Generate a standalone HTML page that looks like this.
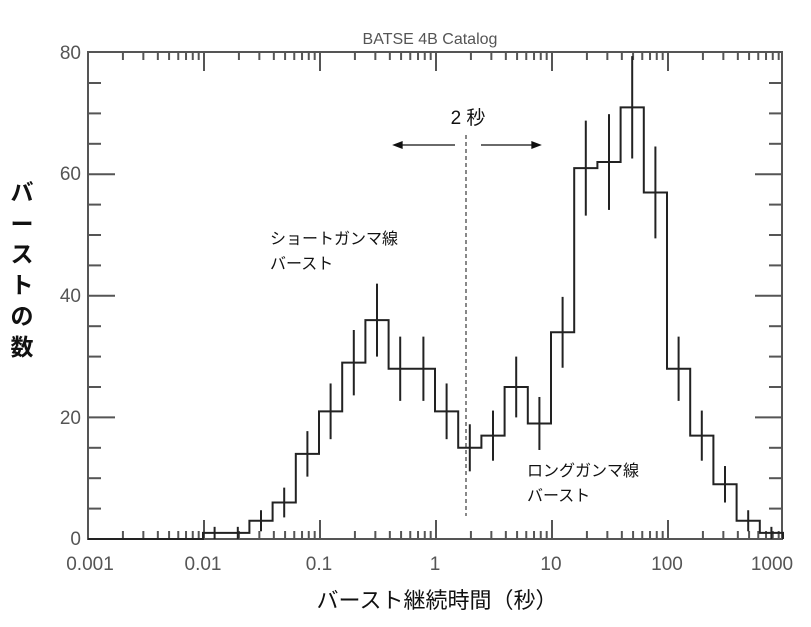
<!DOCTYPE html>
<html><head><meta charset="utf-8"><style>
body{margin:0;background:#fff;width:811px;height:627px;overflow:hidden}
svg{display:block}
.t{font-family:"Liberation Sans","Noto Sans CJK JP",sans-serif}
</style></head><body>
<svg id="s" width="811" height="627" viewBox="0 0 811 627" xmlns="http://www.w3.org/2000/svg">
<text class="t" x="430" y="44" font-size="16" fill="#555" text-anchor="middle">BATSE 4B Catalog</text>
<g id="ax" stroke="#555" stroke-width="2" fill="none"></g>
<g id="hist" stroke="#222" stroke-width="2" fill="none"></g>
<g class="t" font-size="19" fill="#555" text-anchor="end">
<text x="81" y="545">0</text><text x="81" y="424">20</text><text x="81" y="302">40</text><text x="81" y="180">60</text><text x="81" y="59">80</text>
</g>
<g class="t" font-size="19" fill="#555" text-anchor="middle">
<text x="90" y="570">0.001</text><text x="203" y="570">0.01</text><text x="319" y="570">0.1</text><text x="435" y="570">1</text><text x="551" y="570">10</text><text x="667" y="570">100</text><text x="772" y="570">1000</text>
</g>
<text class="t" x="437" y="608" font-size="22" fill="#111" text-anchor="middle">バースト継続時間（秒）</text>
<g class="t" font-size="23" fill="#111" text-anchor="middle" font-weight="bold">
<text x="22" y="200">バ</text><text x="22" y="232">ー</text><text x="22" y="262">ス</text><text x="22" y="293">ト</text><text x="22" y="324">の</text><text x="22" y="355">数</text>
</g>
<line x1="466" y1="135" x2="466" y2="516" stroke="#111" stroke-width="1" stroke-dasharray="4,3"/>
<text class="t" x="468" y="124" font-size="19" fill="#111" text-anchor="middle">2 秒</text>
<g stroke="#111" stroke-width="1.3" fill="#111">
<line x1="398" y1="145" x2="455" y2="145"/><polygon points="394,145 402,142 402,148"/>
<line x1="481" y1="145" x2="536" y2="145"/><polygon points="540,145 532,142 532,148"/>
</g>
<g class="t" font-size="16" fill="#111">
<text x="270" y="244">ショートガンマ線</text><text x="270" y="269">バースト</text>
<text x="527" y="476">ロングガンマ線</text><text x="527" y="501">バースト</text>
</g>
</svg>
<script>
var ns="http://www.w3.org/2000/svg";
function L(g,x1,y1,x2,y2){var l=document.createElementNS(ns,"line");l.setAttribute("x1",x1);l.setAttribute("y1",y1);l.setAttribute("x2",x2);l.setAttribute("y2",y2);document.getElementById(g).appendChild(l);}
var X0=88,X1=782,Yb=539,Yt=52;
function X(t){return 88+116*(Math.log10(t)+3);}
function Y(v){return 539-6.08*v;}
var ax=document.getElementById("ax");
var r=document.createElementNS(ns,"rect");r.setAttribute("x",X0);r.setAttribute("y",Yt);r.setAttribute("width",X1-X0);r.setAttribute("height",Yb-Yt);ax.appendChild(r);
for(var d=-3;d<3;d++){for(var m=1;m<10;m++){var x=X(m*Math.pow(10,d));if(x>X1)continue;var len=m==1?19:8;if(m==1&&d==-3)continue;L("ax",x,Yb,x,Yb-len);L("ax",x,Yt,x,Yt+len);}}
for(var v=5;v<80;v+=5){var len=v%20==0?27:13;L("ax",X0,Y(v),X0+len,Y(v));L("ax",X1,Y(v),X1-len,Y(v));}
var vals=[1,1,3,6,14,21,29,36,28,28,21,15,17,25,19,34,61,62,71,57,28,17,9,3,1];
var d="M"+X0+","+Yb+" L203,"+Yb;var w=23.2;
for(var i=0;i<vals.length;i++){var xa=203+w*i,xb=xa+w;d+=" L"+xa+","+Y(vals[i])+" L"+xb+","+Y(vals[i]);}
var xe=203+w*vals.length;d+=" L"+xe+","+Yb;
var p=document.createElementNS(ns,"path");p.setAttribute("d",d);document.getElementById("hist").appendChild(p);
for(var i=0;i<vals.length;i++){var xc=203+w*(i+0.5),e=Math.sqrt(vals[i]);if(vals[i]<=1)e=1;L("hist",xc,Y(vals[i]+e),xc,Math.min(Yb,Y(vals[i]-e)));}
</script>
</body></html>
